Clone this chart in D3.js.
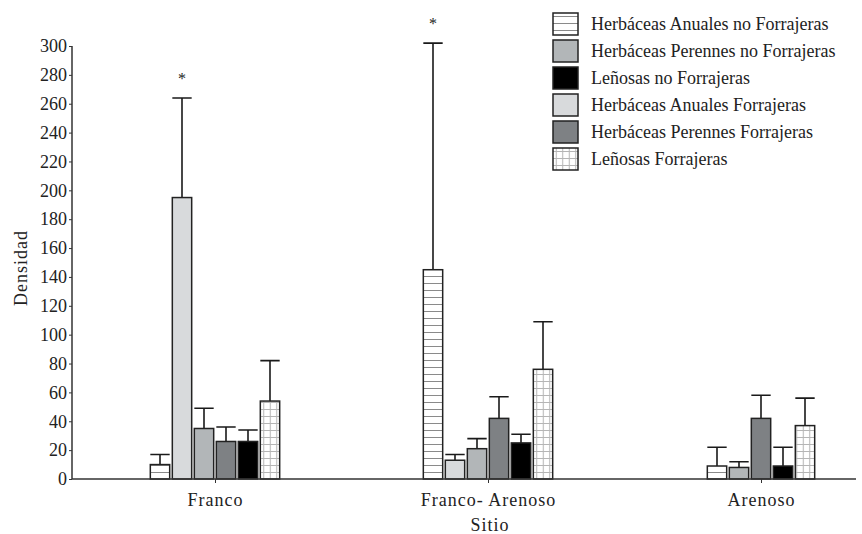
<!DOCTYPE html>
<html lang="es">
<head>
<meta charset="UTF-8">
<title>Densidad por sitio</title>
<script src="https://d3js.org/d3.v7.min.js"></script>
<style>
  body { margin: 0; background: #fff; }
  text { font-family: "Liberation Serif", "DejaVu Serif", serif; fill: #222; }
</style>
</head>
<body>
<svg width="862" height="534"></svg>
<script>
// categories (x axis)
const sites = ["Franco", "Franco- Arenoso", "Arenoso"];

// series in the order the bars are drawn inside each group
const seriesNames = [
    "Herbáceas Anuales no Forrajeras",
    "Herbáceas Anuales Forrajeras",
    "Herbáceas Perennes no Forrajeras",
    "Herbáceas Perennes Forrajeras",
    "Leñosas no Forrajeras",
    "Leñosas Forrajeras"
];

// order used in the legend
const legendOrder = [
    "Herbáceas Anuales no Forrajeras",
    "Herbáceas Perennes no Forrajeras",
    "Leñosas no Forrajeras",
    "Herbáceas Anuales Forrajeras",
    "Herbáceas Perennes Forrajeras",
    "Leñosas Forrajeras"
];

// mean density per site (null = no bar)
const anualesNoF  = [10, 145, 9];
const anualesF    = [195, 13, null];
const perennesNoF = [35, 21, 8];
const perennesF   = [26, 42, 42];
const lenosasNoF  = [26, 25, 9];
const lenosasF    = [54, 76, 37];

// upper error (standard error) per site
const anualesNoFErr  = [7, 157, 13];
const anualesFErr    = [69, 4, null];
const perennesNoFErr = [14, 7, 4];
const perennesFErr   = [10, 15, 16];
const lenosasNoFErr  = [8, 6, 13];
const lenosasFErr    = [28, 33, 19];

const yTicks = d3.range(0, 301, 20);

// significant differences (asterisk above the bar)
const starred = [
    { site: "Franco", series: "Herbáceas Anuales Forrajeras" },
    { site: "Franco- Arenoso", series: "Herbáceas Anuales no Forrajeras" }
];

const values = [anualesNoF, anualesF, perennesNoF, perennesF, lenosasNoF, lenosasF];
const errors = [anualesNoFErr, anualesFErr, perennesNoFErr, perennesFErr, lenosasNoFErr, lenosasFErr];

const fills = {
    "Herbáceas Anuales no Forrajeras": "url(#hlines)",
    "Herbáceas Anuales Forrajeras": "#d8dadc",
    "Herbáceas Perennes no Forrajeras": "#b2b6b8",
    "Herbáceas Perennes Forrajeras": "#7e8184",
    "Leñosas no Forrajeras": "#000",
    "Leñosas Forrajeras": "url(#grid)"
};

const svg = d3.select("svg");

// patterns
const defs = svg.append("defs");
const hl = defs.append("pattern").attr("id", "hlines")
    .attr("patternUnits", "userSpaceOnUse").attr("width", 8).attr("height", 7);
hl.append("rect").attr("width", 8).attr("height", 7).attr("fill", "#fff");
hl.append("line").attr("x1", 0).attr("x2", 8).attr("y1", 3.5).attr("y2", 3.5)
    .attr("stroke", "#8a8a8a").attr("stroke-width", 1);

const gr = defs.append("pattern").attr("id", "grid")
    .attr("patternUnits", "userSpaceOnUse").attr("width", 6.5).attr("height", 7);
gr.append("rect").attr("width", 6.5).attr("height", 7).attr("fill", "#fff");
gr.append("line").attr("x1", 0).attr("x2", 6.5).attr("y1", 3.5).attr("y2", 3.5)
    .attr("stroke", "#b5b5b5").attr("stroke-width", 1);
gr.append("line").attr("x1", 3.25).attr("x2", 3.25).attr("y1", 0).attr("y2", 7)
    .attr("stroke", "#b5b5b5").attr("stroke-width", 1);

const x0 = 72, xEnd = 856;
const y = d3.scaleLinear().domain([0, 300]).range([479, 46]);
const x = d3.scalePoint().domain(sites).range([215, 761]);
const step = 22;

// bars
sites.forEach((site, si) => {
    const present = seriesNames.filter((s, k) => values[k][si] != null);
    const inner = d3.scaleBand().domain(present)
        .range([-present.length * step / 2, present.length * step / 2])
        .paddingInner(0.12).paddingOuter(0.06);
    const rows = present.map(s => {
        const k = seriesNames.indexOf(s);
        return { site, series: s, v: values[k][si], e: errors[k][si] };
    });
    const g = svg.append("g").attr("transform", `translate(${x(site)},0)`);

    // error bars (upper only)
    g.selectAll(".err").data(rows).enter().append("path")
        .attr("fill", "none").attr("stroke", "#1a1a1a").attr("stroke-width", 1.6)
        .attr("d", d => {
            const x1 = inner(d.series), w = inner.bandwidth(), xc = x1 + w / 2;
            const yt = y(d.v + d.e);
            return `M${xc},${y(d.v)}V${yt}M${x1},${yt}H${x1 + w}`;
        });

    g.selectAll(".bar").data(rows).enter().append("rect")
        .attr("x", d => inner(d.series))
        .attr("y", d => y(d.v))
        .attr("width", inner.bandwidth())
        .attr("height", d => y(0) - y(d.v))
        .attr("fill", d => fills[d.series])
        .attr("stroke", "#222").attr("stroke-width", 1.5);

    g.selectAll(".star").data(rows.filter(d => starred.some(s => s.site === d.site && s.series === d.series)))
        .enter().append("text")
        .attr("x", d => inner(d.series) + inner.bandwidth() / 2)
        .attr("y", d => y(d.v + d.e) - 14)
        .attr("text-anchor", "middle").attr("font-size", 16)
        .text("*");
});

// y axis
const yAxis = svg.append("g").attr("transform", `translate(${x0},0)`)
    .call(d3.axisLeft(y).tickValues(yTicks).tickSize(3).tickPadding(2));
yAxis.select(".domain").attr("stroke", "#333").attr("stroke-width", 1.5).attr("d", `M0,${y(0)}V${y(300)}`);
yAxis.selectAll(".tick line").attr("stroke", "#333");
yAxis.selectAll(".tick text").attr("font-size", 18).attr("font-family", "Liberation Serif").attr("fill", "#222");

// x axis
const xAxis = svg.append("g").attr("transform", `translate(0,${y(0)})`)
    .call(d3.axisBottom(x).tickSize(4).tickPadding(10));
xAxis.select(".domain").attr("stroke", "#333").attr("stroke-width", 1.5).attr("d", `M${x0},0H${xEnd}`);
xAxis.selectAll(".tick line").attr("stroke", "#333");
xAxis.selectAll(".tick text").attr("font-size", 18).attr("letter-spacing", 1)
    .attr("font-family", "Liberation Serif").attr("fill", "#222");

svg.append("text").attr("x", 490).attr("y", 531).attr("text-anchor", "middle")
    .attr("font-size", 18).attr("letter-spacing", 1).text("Sitio");
svg.append("text").attr("transform", "translate(27,268) rotate(-90)")
    .attr("text-anchor", "middle").attr("font-size", 18).attr("letter-spacing", 1).text("Densidad");

// legend
const legend = svg.append("g").attr("transform", "translate(553,13)");
const li = legend.selectAll("g").data(legendOrder).enter().append("g")
    .attr("transform", (d, i) => `translate(0,${i * 27})`);
li.append("rect").attr("width", 25).attr("height", 22)
    .attr("fill", d => fills[d]).attr("stroke", "#222").attr("stroke-width", 1.5);
li.append("text").attr("x", 38).attr("y", 17).attr("font-size", 18).text(d => d);
</script>
</body>
</html>
